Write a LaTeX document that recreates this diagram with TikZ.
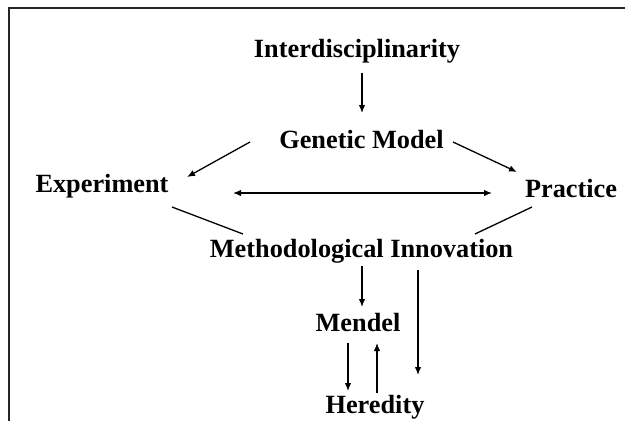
\documentclass[tikz,border=0pt]{standalone}
\usepackage{fontspec}
\setmainfont{Liberation Serif}
\usetikzlibrary{arrows.meta}
\begin{document}
\begin{tikzpicture}[x=1pt,y=-1pt,
  lbl/.style={font=\fontsize{26.3}{30}\selectfont\bfseries, inner sep=0pt, anchor=base},
  arr/.style={line width=1.3pt, -{Latex[length=8pt,width=6.5pt]}},
  darr/.style={line width=1.3pt, {Latex[length=8pt,width=6.5pt]}-{Latex[length=8pt,width=6.5pt]}},
  ln/.style={line width=1.3pt},
  frame/.style={line width=1.6pt, draw=black!85}]
\useasboundingbox (0,0) rectangle (625,421);
\draw[frame] (9,421) -- (9,8) -- (625,8);
% nodes
\node[lbl] (int) at (357,57) {Interdisciplinarity};
\node[lbl] (gen) at (361.5,148) {Genetic Model};
\node[lbl] (exp) at (102,192) {Experiment};
\node[lbl] (pra) at (571,197) {Practice};
\node[lbl] (mi)  at (361.5,257) {Methodological Innovation};
\node[lbl] (men) at (358,331) {Mendel};
\node[lbl] (her) at (375,413) {Heredity};
% endpoints
\coordinate (a1) at (362,73);  \coordinate (a2) at (362,113);
\coordinate (b1) at (250,142); \coordinate (b2) at (187,177);
\coordinate (c1) at (453,142); \coordinate (c2) at (517,172);
\coordinate (d1) at (233,193); \coordinate (d2) at (492,193);
\coordinate (e1) at (172,207); \coordinate (e2) at (243,234);
\coordinate (f1) at (532,207); \coordinate (f2) at (475,234);
\coordinate (g1) at (362,266); \coordinate (g2) at (362,307);
\coordinate (h1) at (418,270); \coordinate (h2) at (418,375);
\coordinate (i1) at (348,343); \coordinate (i2) at (348,391);
\coordinate (j1) at (377,393); \coordinate (j2) at (377,343);
% connectors
\draw[arr] (a1) -- (a2);
\draw[arr] (b1) -- (b2);
\draw[arr] (c1) -- (c2);
\draw[darr] (d1) -- (d2);
\draw[ln] (e1) -- (e2);
\draw[ln] (f1) -- (f2);
\draw[arr] (g1) -- (g2);
\draw[arr] (h1) -- (h2);
\draw[arr] (i1) -- (i2);
\draw[arr] (j1) -- (j2);
\end{tikzpicture}
\end{document}
